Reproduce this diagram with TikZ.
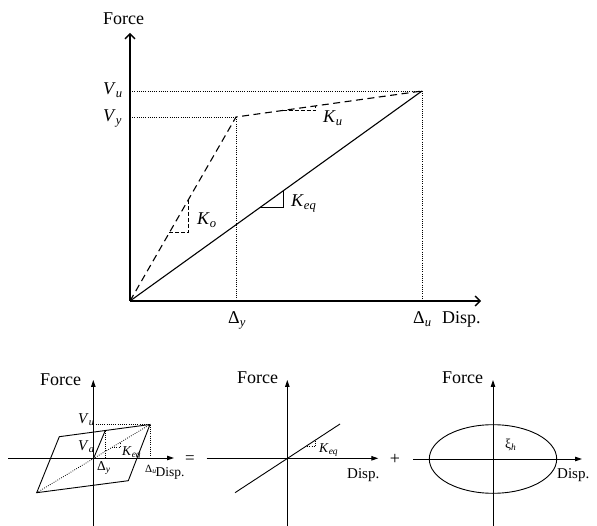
\documentclass[tikz,border=0pt]{standalone}
\usepackage{fontspec}
\setmainfont{Liberation Serif}
\usetikzlibrary{arrows.meta,calc}
\newcommand\lsub[2]{\textit{#1}\textsubscript{\textit{#2}}}
\newcommand\dsub[1]{Δ\textsubscript{\textit{#1}}}
\tikzset{
  axisM/.style={line width=1.3pt,-{Straight Barb[length=5pt,width=10pt]}},
  axisS/.style={line width=0.9pt,-{Triangle[length=7pt,width=4.5pt]}},
  axisP/.style={line width=0.9pt},
  dashM/.style={line width=1.1pt,dash pattern=on 7pt off 4.5pt},
  dashT/.style={line width=1pt,dash pattern=on 4pt off 2pt},
  dotL/.style={line width=0.8pt,dash pattern=on 0.8pt off 1.4pt},
  solidL/.style={line width=1.1pt},
  thinL/.style={line width=0.9pt},
  big/.style={inner sep=0pt,anchor=base west,font=\fontsize{18}{20}\selectfont},
  mid/.style={inner sep=0pt,anchor=base west,font=\fontsize{15}{17}\selectfont},
  sml/.style={inner sep=0pt,anchor=base west,font=\fontsize{13.5}{15}\selectfont},
  tiny/.style={inner sep=0pt,anchor=base west,font=\fontsize{11}{13}\selectfont},
}
\begin{document}
\begin{tikzpicture}[x=1pt,y=-1pt]
\useasboundingbox (0,0) rectangle (597,526);
% ---------------- main plot ----------------
\coordinate (O) at (130,301);
\coordinate (Ytop) at (130,33);
\coordinate (Xend) at (481,301);
\coordinate (Yp) at (236,117);
\coordinate (Up) at (422,91);
% dotted guides
\draw[dotL] (O |- Up) -- (Up);
\draw[dotL] (O |- Yp) -- (Yp);
\draw[dotL] (Yp) -- (Yp |- O);
\draw[dotL] (Up) -- (Up |- O);
% axes
\draw[axisM] (O) -- (Ytop);
\draw[axisM] (O) -- (Xend);
% curves
\draw[dashM] (O) -- (Yp) -- (Up);
\draw[solidL] (O) -- (Up);
% slope triangles
\coordinate (KoA) at ($(O)!0.37!(Yp)$);
\coordinate (KoB) at ($(O)!0.55!(Yp)$);
\draw[dashT] (KoA) -- (KoA -| KoB) -- (KoB);
\coordinate (KeA) at ($(O)!0.445!(Up)$);
\coordinate (KeB) at ($(O)!0.527!(Up)$);
\draw[thinL] (KeA) -- (KeA -| KeB) -- (KeB);
\coordinate (KuA) at ($(Yp)!0.25!(Up)$);
\coordinate (KuB) at ($(Yp)!0.43!(Up)$);
\draw[dashT] (KuA) -- (KuA -| KuB) -- (KuB);
% labels
\node[big] (force0) at (103,25) {Force};
\node[big] (vu0) at (103,95) {\lsub{V}{u}};
\node[big] (vy0) at (103,122) {\lsub{V}{y}};
\node[big] (ko0) at (197,225) {\lsub{K}{o}};
\node[big] (ku0) at (323,123) {\lsub{K}{u}};
\node[big] (keq0) at (291,207) {\lsub{K}{eq}};
\node[big] (dy0) at (228,324) {\dsub{y}};
\node[big] (du0) at (413,324) {\dsub{u}};
\node[big] (disp0) at (442,324) {Disp.};
% ---------------- panel 1 ----------------
\coordinate (O1) at (93.3,459);
\coordinate (Y1t) at (93.3,380);
\coordinate (Y1b) at (93.3,526);
\coordinate (X1l) at (8,458);
\coordinate (X1r) at (174,458);
\coordinate (P1) at (150,424.5);
\coordinate (P2) at (59.3,436.7);
\coordinate (P3) at (36.7,492.7);
\coordinate (P4) at (128.3,480.7);
\coordinate (L1) at ($(P2)!0.507!(P1)$);
\draw[dotL] (O1 |- P1) -- (P1);
\draw[dotL] (L1) -- (L1 |- O1);
\draw[dotL] (P1) -- (P1 |- O1);
\draw[dotL] (P3) -- (P1);
\coordinate (K1A) at ($(P3)!0.665!(P1)$);
\coordinate (K1B) at ($(P3)!0.735!(P1)$);
\draw[dotL] (K1A) -- (K1A -| K1B) -- (K1B);
\draw[axisP] (Y1b) -- (O1);
\draw[axisS] (O1) -- (Y1t);
\draw[axisS] (X1l) -- (X1r);
\draw[thinL] (P1) -- (P2) -- (P3) -- (P4) -- cycle;
\draw[thinL] (O1) -- (L1);
\node[big] (force1) at (40,385) {Force};
\node[mid] (vu1) at (78,423) {\lsub{V}{u}};
\node[mid] (va1) at (78,450) {\lsub{V}{a}};
\node[sml] (dy1) at (97,470) {\dsub{y}};
\node[tiny] (du1) at (145,472) {\dsub{u}};
\node[sml] (keq1) at (122,455) {\lsub{K}{eq}};
\node[sml] (disp1) at (155.5,476) {Disp.};
\node[inner sep=0pt,font=\fontsize{17}{19}\selectfont] (eq) at (190,460) {=};
% ---------------- panel 2 ----------------
\coordinate (O2) at (287.3,458.3);
\coordinate (Y2t) at (287.3,380);
\coordinate (Y2b) at (287.3,526);
\coordinate (X2l) at (206.7,458.3);
\coordinate (X2r) at (378.3,458.3);
\coordinate (L2a) at (235,492.7);
\coordinate (L2b) at (340,424);
\draw[axisP] (Y2b) -- (O2);
\draw[axisS] (O2) -- (Y2t);
\draw[axisS] (X2l) -- (X2r);
\draw[thinL] (L2a) -- (L2b);
\coordinate (K2A) at ($(L2a)!0.667!(L2b)$);
\coordinate (K2B) at ($(L2a)!0.762!(L2b)$);
\draw[dotL] (K2A) -- (K2A -| K2B) -- (K2B);
\node[big] (force2) at (237,384) {Force};
\node[sml] (keq2) at (319,452) {\lsub{K}{eq}};
\node[mid] (disp2) at (347,478) {Disp.};
\node[inner sep=0pt,font=\fontsize{18}{20}\selectfont] (plus) at (395,459) {+};
% ---------------- panel 3 ----------------
\coordinate (O3) at (493,459);
\coordinate (Y3t) at (493,380);
\coordinate (Y3b) at (493,526);
\coordinate (X3l) at (413,459);
\coordinate (X3r) at (582,459);
\draw[axisP] (Y3b) -- (O3);
\draw[axisS] (O3) -- (Y3t);
\draw[axisS] (X3l) -- (X3r);
\draw[thinL] (O3) ellipse [x radius=63.7pt, y radius=34.3pt];
\node[big] (force3) at (442,384) {Force};
\node[sml] (xi3) at (505,448) {ξ\textsubscript{\textit{h}}};
\node[mid] (disp3) at (557,478) {Disp.};
\end{tikzpicture}
\end{document}
